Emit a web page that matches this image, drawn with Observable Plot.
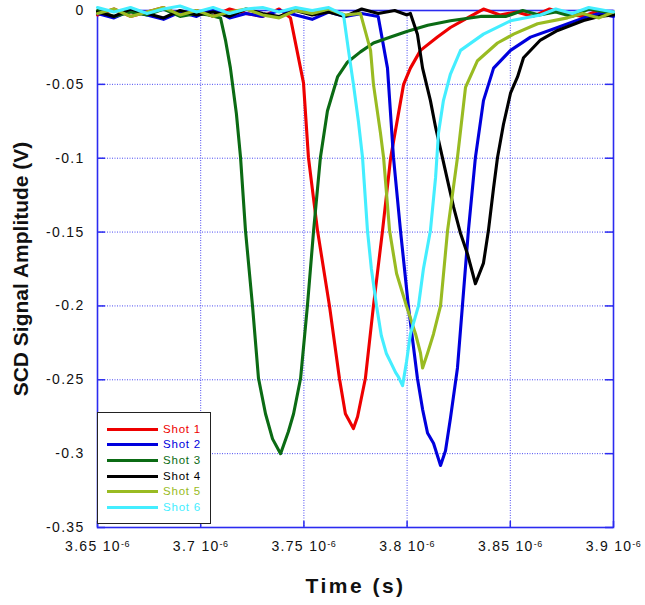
<!DOCTYPE html>
<html><head><meta charset="utf-8">
<script src="https://cdn.jsdelivr.net/npm/d3@7"></script>
<script src="https://cdn.jsdelivr.net/npm/@observablehq/plot@0.6"></script>
<style>
body{margin:0;background:#fff;}
#wrap{position:relative;width:645px;height:605px;}
#legend{position:absolute;left:97px;top:412px;width:114px;height:112px;border:1.5px solid #222;background:#fff;box-sizing:border-box;font-family:"Liberation Sans",Arial,sans-serif;font-size:11.5px;letter-spacing:0.8px;}
.row{position:absolute;left:9px;height:14px;display:flex;align-items:center;}
.sw{width:51px;height:3px;margin-right:5px;}
.tick-lab text{letter-spacing:1.3px;}
</style></head>
<body><div id="wrap"></div>
<script>
// ---- data (time in microseconds, amplitude in volts) ----
const shotNames = ["Shot 1","Shot 2","Shot 3","Shot 4","Shot 5","Shot 6"];
const shotColors = ["#ee0000","#0000dd","#0b6b14","#000000","#99bb22","#44eeff"];
const xTicks = [3.65,3.7,3.75,3.8,3.85,3.9];
const yTicks = [0,-0.05,-0.1,-0.15,-0.2,-0.25,-0.3,-0.35];

const shot1T = [3.650,3.658,3.666,3.674,3.682,3.690,3.698,3.706,3.714,3.722,3.730,3.738,3.7435,3.7498,3.7522,3.7566,3.7624,3.7672,3.7701,3.7740,3.7760,3.7798,3.7837,3.7881,3.7920,3.7983,3.8016,3.8065,3.8147,3.8210,3.8293,3.837,3.845,3.853,3.861,3.869,3.877,3.885,3.893,3.900];
const shot1V = [-0.003,0.001,-0.004,-0.001,0.002,-0.003,0.000,-0.004,0.001,-0.002,-0.004,0.001,-0.005,-0.049,-0.0995,-0.149,-0.200,-0.249,-0.273,-0.283,-0.275,-0.249,-0.200,-0.149,-0.100,-0.050,-0.039,-0.027,-0.018,-0.0115,-0.005,0.001,-0.003,-0.001,-0.004,0.001,-0.002,-0.004,0.000,-0.002];

const shot2T = [3.650,3.658,3.666,3.674,3.682,3.690,3.698,3.706,3.714,3.722,3.730,3.738,3.746,3.754,3.762,3.770,3.778,3.786,3.7905,3.7934,3.7968,3.8006,3.8050,3.8075,3.8099,3.8128,3.8162,3.8186,3.8210,3.8244,3.8268,3.8297,3.8331,3.8370,3.8419,3.8501,3.8598,3.8729,3.8855,3.893,3.900];
const shot2V = [-0.002,-0.005,0.000,-0.003,-0.006,-0.001,-0.004,0.001,-0.005,-0.002,-0.004,0.000,-0.003,-0.006,-0.001,-0.004,-0.002,-0.004,-0.039,-0.0995,-0.149,-0.200,-0.249,-0.270,-0.286,-0.293,-0.308,-0.298,-0.276,-0.242,-0.200,-0.149,-0.0995,-0.061,-0.039,-0.027,-0.018,-0.0115,-0.005,-0.002,-0.004];

const shot3T = [3.650,3.658,3.666,3.674,3.682,3.690,3.698,3.704,3.7096,3.7120,3.7144,3.7173,3.7193,3.7217,3.7251,3.7280,3.7314,3.7348,3.7387,3.7425,3.7450,3.7484,3.7517,3.7547,3.7580,3.7614,3.7663,3.7711,3.7774,3.7837,3.7920,3.8002,3.8100,3.8210,3.8356,3.848,3.856,3.864,3.872,3.880,3.888,3.900];
const shot3V = [0.000,-0.004,-0.001,-0.003,0.001,-0.004,-0.002,-0.003,-0.005,-0.020,-0.039,-0.070,-0.0995,-0.149,-0.200,-0.249,-0.273,-0.290,-0.300,-0.285,-0.273,-0.249,-0.200,-0.149,-0.0995,-0.068,-0.045,-0.035,-0.028,-0.022,-0.018,-0.014,-0.010,-0.007,-0.004,-0.004,0.000,-0.003,-0.001,-0.004,0.001,-0.002];

const shot4T = [3.650,3.658,3.666,3.674,3.682,3.690,3.698,3.706,3.714,3.722,3.730,3.738,3.746,3.754,3.762,3.770,3.778,3.786,3.794,3.800,3.8016,3.8050,3.8075,3.8113,3.8138,3.8196,3.8225,3.8259,3.8293,3.8331,3.8370,3.8394,3.8419,3.8438,3.8467,3.8501,3.8535,3.8564,3.8646,3.8729,3.8855,3.893,3.900];
const shot4V = [-0.001,-0.004,0.001,-0.002,-0.005,0.000,-0.003,-0.001,-0.004,0.001,-0.002,-0.004,0.000,-0.003,-0.001,-0.004,0.001,-0.002,0.000,-0.003,-0.002,-0.016,-0.039,-0.061,-0.079,-0.115,-0.133,-0.151,-0.165,-0.185,-0.171,-0.149,-0.120,-0.0995,-0.077,-0.056,-0.045,-0.032,-0.020,-0.0135,-0.0068,-0.004,-0.003];

const shot5T = [3.650,3.658,3.666,3.674,3.682,3.690,3.698,3.706,3.714,3.722,3.730,3.738,3.746,3.754,3.762,3.770,3.7774,3.7823,3.7837,3.7871,3.7886,3.7915,3.7949,3.7997,3.8041,3.8065,3.8075,3.8099,3.8128,3.8162,3.8196,3.8244,3.8283,3.8341,3.8438,3.8516,3.8632,3.8777,3.885,3.893,3.900];
const shot5V = [-0.002,0.001,-0.004,-0.001,0.002,-0.003,0.000,-0.004,-0.001,0.001,-0.003,-0.005,0.000,-0.002,0.001,-0.003,-0.002,-0.027,-0.050,-0.083,-0.0995,-0.149,-0.178,-0.200,-0.219,-0.232,-0.242,-0.232,-0.219,-0.200,-0.149,-0.0995,-0.052,-0.034,-0.022,-0.016,-0.009,-0.005,-0.002,-0.005,-0.001];

const shot6T = [3.650,3.658,3.666,3.674,3.682,3.690,3.698,3.706,3.714,3.722,3.730,3.738,3.746,3.754,3.762,3.7692,3.7716,3.7740,3.7764,3.7784,3.7808,3.7827,3.7852,3.7875,3.7899,3.7920,3.7944,3.7958,3.7978,3.7997,3.8016,3.8055,3.8079,3.8113,3.8138,3.8152,3.8176,3.8210,3.8259,3.8370,3.8501,3.8646,3.872,3.880,3.888,3.900];
const shot6V = [0.002,-0.001,0.002,-0.002,0.001,0.003,-0.001,0.002,-0.002,0.001,0.002,-0.001,0.002,0.000,0.002,-0.003,-0.027,-0.050,-0.075,-0.0995,-0.149,-0.175,-0.200,-0.220,-0.232,-0.238,-0.245,-0.248,-0.254,-0.238,-0.219,-0.200,-0.175,-0.149,-0.113,-0.083,-0.061,-0.043,-0.027,-0.016,-0.007,-0.003,0.001,-0.002,0.002,-0.001];

const shotTimes = [shot1T,shot2T,shot3T,shot4T,shot5T,shot6T];
const shotValues = [shot1V,shot2V,shot3V,shot4V,shot5V,shot6V];

const rows = shotNames.flatMap((name,i) => shotTimes[i].map((t,j) => ({shot:name, t, v:shotValues[i][j]})));

// ---- layout ----
const W = 645, H = 605, mL = 97, mR = 32, mT = 10, mB = 78;
const frameW = W - mL - mR, frameH = H - mT - mB;
const blue = "#2b2bf0", gridBlue = "#4a4af2";

const chart = Plot.plot({
  width: W, height: H,
  marginLeft: mL, marginRight: mR, marginTop: mT, marginBottom: mB,
  style: {fontFamily: "'Liberation Sans', Arial, sans-serif", fontSize: "14px", background: "#fff", overflow: "visible"},
  x: {domain: [3.65, 3.9]},
  y: {domain: [-0.35, 0]},
  color: {domain: shotNames, range: shotColors},
  marks: [
    Plot.gridX(xTicks, {stroke: gridBlue, strokeOpacity: 1, strokeDasharray: "1,1.5"}),
    Plot.gridY(yTicks, {stroke: gridBlue, strokeOpacity: 1, strokeDasharray: "1,1.5"}),
    Plot.frame({stroke: blue, strokeWidth: 1.6}),
    Plot.tickY(yTicks, {y: d => d, stroke: blue, strokeWidth: 1.5, insetRight: frameW - 8}),
    Plot.tickY(yTicks, {y: d => d, stroke: blue, strokeWidth: 1.5, insetLeft: frameW - 8}),
    Plot.tickX(xTicks, {x: d => d, stroke: blue, strokeWidth: 1.5, insetTop: frameH - 6}),
    Plot.line(rows, {x: "t", y: "v", z: "shot", stroke: "shot", strokeWidth: 3.1}),
    Plot.axisY(yTicks, {tickSize: 0, tickPadding: 13, tickFormat: d => String(d), label: null, fill: "#111", fontSize: 14, className: "tick-lab"}),
    Plot.axisX(xTicks, {tickSize: 0, tickPadding: 14, tickFormat: d => String(+d.toFixed(2)), label: null, fill: "#111", fontSize: 14, className: "tick-lab"}),
    Plot.text(["SCD Signal Amplitude (V)"], {frameAnchor: "left", dx: -76, rotate: -90, textAnchor: "middle", lineAnchor: "middle", text: d => d, fontSize: 21, fontWeight: "bold", fill: "#111"}),
    Plot.text(["Time (s)"], {frameAnchor: "bottom", dy: 59, textAnchor: "middle", lineAnchor: "middle", text: d => d, fontSize: 21, fontWeight: "bold", fill: "#111", className: "xtitle"})
  ]
});

// superscript exponent on x tick labels
d3.select(chart).selectAll('g[aria-label="x-axis tick label"] text').each(function() {
  const s = this.textContent;
  const sel = d3.select(this);
  sel.text(null);
  sel.append("tspan").text(s + " 10");
  sel.append("tspan").attr("dy", "-0.55em").attr("font-size", "9px").attr("letter-spacing", "0.5px").text("-6");
});
d3.select(chart).selectAll('.xtitle text').attr("letter-spacing", "2.5px");

const wrap = document.getElementById("wrap");
wrap.appendChild(chart);

// legend
const legend = document.createElement("div");
legend.id = "legend";
const rowCenters = [17, 32, 48, 64, 79, 95];
shotNames.forEach((name, i) => {
  const r = document.createElement("div");
  r.className = "row";
  r.style.top = (rowCenters[i] - 8) + "px";
  const sw = document.createElement("div");
  sw.className = "sw";
  sw.style.background = shotColors[i];
  const lab = document.createElement("span");
  lab.textContent = name;
  lab.style.color = shotColors[i];
  r.appendChild(sw); r.appendChild(lab);
  legend.appendChild(r);
});
wrap.appendChild(legend);
</script>
</body></html>
